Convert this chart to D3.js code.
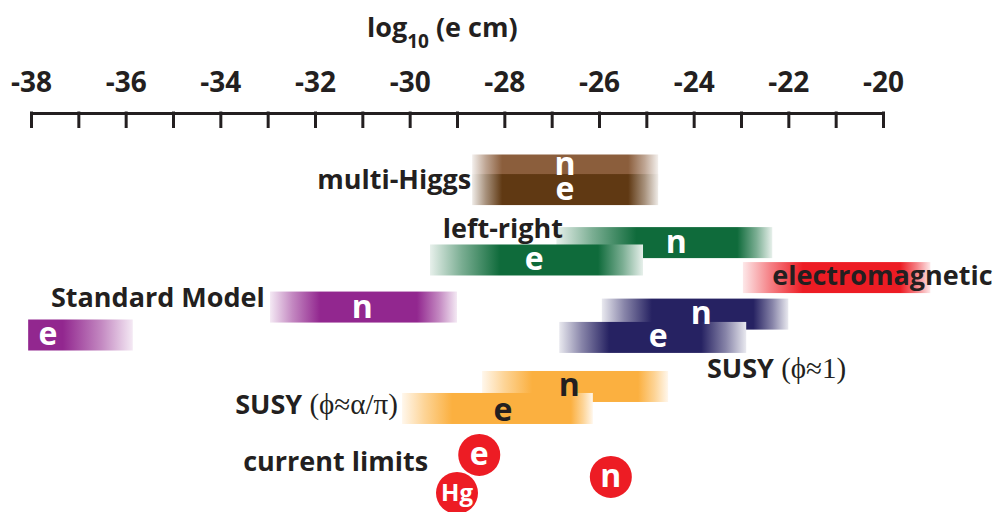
<!DOCTYPE html>
<html>
<head>
<meta charset="utf-8">
<script src="https://cdn.jsdelivr.net/npm/d3@7"></script>
<style>
  html, body { margin: 0; padding: 0; background: #fff; }
  svg { display: block; }
  text { font-family: "Open Sans", "Noto Sans", sans-serif; font-weight: 700; fill: #231f20; }
  .serif { font-family: "Liberation Serif", "DejaVu Serif", serif; font-weight: 400; }
</style>
</head>
<body>
<svg id="chart" width="995" height="512"></svg>
<script>
// EDM predictions, log10(d / e cm). lo/hi = range of the band, row = vertical lane,
// at / atRow = where the particle letter sits.
const axisTicks = d3.range(-38, -19, 1);
const tickLabels = [-38, -36, -34, -32, -30, -28, -26, -24, -22, -20];

const multiHiggs = [
  { p: "n", lo: -28.68, hi: -24.75, row: 1.00, at: -26.72, atRow: 0.75 },
  { p: "e", lo: -28.68, hi: -24.75, row: 1.89, at: -26.72, atRow: 1.93 }
];
const leftRight = [
  { p: "n", lo: -26.90, hi: -22.34, row: 4.30, at: -24.37, atRow: 4.30 },
  { p: "e", lo: -29.57, hi: -25.07, row: 5.09, at: -27.37, atRow: 5.07 }
];
const electromagnetic = [
  { p: "", lo: -22.96, hi: -19.00, row: 5.89, at: null, atRow: null }
];
const standardModel = [
  { p: "n", lo: -32.95, hi: -29.00, row: 7.23, at: -31.00, atRow: 7.27 },
  { p: "e", lo: -38.06, hi: -35.85, row: 8.50, at: -37.64, atRow: 8.50 }
];
const susyOne = [
  { p: "n", lo: -25.94, hi: -22.00, row: 7.55, at: -23.84, atRow: 7.55 },
  { p: "e", lo: -26.84, hi: -22.89, row: 8.61, at: -24.75, atRow: 8.60 }
];
const susyAlpha = [
  { p: "n", lo: -28.47, hi: -24.54, row: 10.84, at: -26.63, atRow: 10.80 },
  { p: "e", lo: -30.16, hi: -26.13, row: 11.84, at: -28.03, atRow: 11.96 }
];
const currentLimits = [
  { p: "e", v: -28.53, row: 13.95 },
  { p: "Hg", v: -29.00, row: 15.68 },
  { p: "n", v: -25.75, row: 14.95 }
];

// Model names: x value, lane of the baseline, anchoring side
const modelLabels = [
  { text: "multi-Higgs", v: -28.70, row: 1.86, anchor: "end" },
  { text: "left-right", v: -29.30, row: 4.09, anchor: "start" },
  { text: "electromagnetic", v: -22.34, row: 6.23, anchor: "start" },
  { text: "Standard Model", v: -33.06, row: 7.23, anchor: "end" },
  { text: "SUSY", serif: " (\u03D5\u22481)", v: -23.72, row: 10.45, anchor: "start" },
  { text: "SUSY", serif: " (\u03D5\u2248\u03B1/\u03C0)", v: -30.25, row: 12.09, anchor: "end" },
  { text: "current limits", v: -29.61, row: 14.68, anchor: "end" }
];

// Styling of each band group: fill, letter colour, fade lengths (px) at each end
const groupStyle = [
  { data: multiHiggs, colors: ["#8b5e3c", "#603913"], ink: "#fff", fades: [[30, 30], [30, 30]] },
  { data: leftRight, colors: ["#0f6b3b", "#0f6b3b"], ink: "#fff", fades: [[80, 35], [70, 45]] },
  { data: electromagnetic, colors: ["#ed1c24"], ink: "#fff", fades: [[60, 30]] },
  { data: standardModel, colors: ["#92278f", "#92278f"], ink: "#fff", fades: [[50, 40], [0, 70]] },
  { data: susyOne, colors: ["#262262", "#262262"], ink: "#fff", fades: [[50, 35], [50, 45]] },
  { data: susyAlpha, colors: ["#fbb040", "#fbb040"], ink: "#231f20", fades: [[50, 30], [50, 22]] }
];

const svg = d3.select("#chart");
const x = d3.scaleLinear().domain([-38, -20]).range([31, 883]);
const y = d3.scaleLinear().domain([0, 16]).range([148, 148 + 16 * 22]);
const barH = 31;

// ---- axis (ticks hang below the line, labels above) ----
const axis = d3.axisTop(x)
  .tickValues(axisTicks)
  .tickSizeInner(-15)
  .tickSizeOuter(0)
  .tickPadding(21)
  .tickFormat(d => tickLabels.includes(d) ? String(d).replace("\u2212", "-") : "");

const gAxis = svg.append("g").attr("transform", "translate(0,113)").call(axis);
gAxis.select(".domain").attr("stroke", "#231f20").attr("stroke-width", 3);
gAxis.selectAll(".tick line").attr("stroke", "#231f20").attr("stroke-width", 3).attr("y1", -1.5);
gAxis.selectAll(".tick text")
  .attr("fill", "#231f20")
  .style("font-family", "\"Open Sans\", sans-serif")
  .style("font-weight", 700)
  .style("font-size", "28px");

// title
const title = svg.append("text").attr("x", 367).attr("y", 37).style("font-size", "27px");
title.append("tspan").text("log");
title.append("tspan").attr("dy", 11).style("font-size", "19px").text("10");
title.append("tspan").attr("dy", -11).text(" (e cm)");

// ---- bands: opaque fills that fade out to white at their ends ----
const defs = svg.append("defs");
const gBars = svg.append("g");
const letters = [];
const edgeMix = 0.1;

groupStyle.forEach((g, gi) => {
  g.data.forEach((d, i) => {
    const x0 = x(d.lo), x1 = x(d.hi), w = x1 - x0;
    const [fl, fr] = g.fades[i];
    const color = g.colors[i];
    const pale = d3.interpolateRgb("#ffffff", color)(edgeMix);
    const mid = d3.interpolateRgb("#ffffff", color)(0.55);
    const id = `grad-${gi}-${i}`;
    const grad = defs.append("linearGradient").attr("id", id)
      .attr("x1", 0).attr("x2", 1).attr("y1", 0).attr("y2", 0);
    const stops = [];
    if (fl > 0) stops.push([0, pale], [fl / w * 0.45, mid], [fl / w, color]);
    else stops.push([0, color]);
    if (fr > 0) stops.push([1 - fr / w, color], [1 - fr / w * 0.45, mid], [1, pale]);
    else stops.push([1, color]);
    stops.forEach(([o, c]) => grad.append("stop").attr("offset", o).attr("stop-color", c));
    gBars.append("rect")
      .attr("x", x0).attr("y", y(d.row) - barH / 2)
      .attr("width", w).attr("height", barH)
      .attr("fill", `url(#${id})`);
    if (d.p) letters.push({ p: d.p, v: d.at, row: d.atRow, ink: g.ink });
  });
});

// ---- model names ----
const gLabels = svg.append("g");
modelLabels.forEach(l => {
  const t = gLabels.append("text")
    .attr("x", x(l.v)).attr("y", y(l.row))
    .attr("text-anchor", l.anchor)
    .style("font-size", "27px");
  t.append("tspan").text(l.text);
  if (l.serif) t.append("tspan").attr("class", "serif").style("font-size", "29px").text(l.serif);
});

// ---- particle letters inside bands ----
svg.append("g").selectAll("text").data(letters).join("text")
  .attr("x", d => x(d.v)).attr("y", d => y(d.row) + 10)
  .attr("text-anchor", "middle")
  .style("font-size", "32px")
  .style("fill", d => d.ink)
  .text(d => d.p);

// ---- current experimental limits ----
const gLim = svg.append("g").selectAll("g").data(currentLimits).join("g")
  .attr("transform", d => `translate(${x(d.v)},${y(d.row)})`);
gLim.append("circle").attr("r", 21).attr("fill", "#ed1c24");
gLim.append("text")
  .attr("text-anchor", "middle")
  .attr("dy", d => d.p === "Hg" ? 8.5 : 10)
  .style("font-size", d => d.p === "Hg" ? "24px" : "32px")
  .style("fill", "#fff")
  .text(d => d.p);
</script>
</body>
</html>
